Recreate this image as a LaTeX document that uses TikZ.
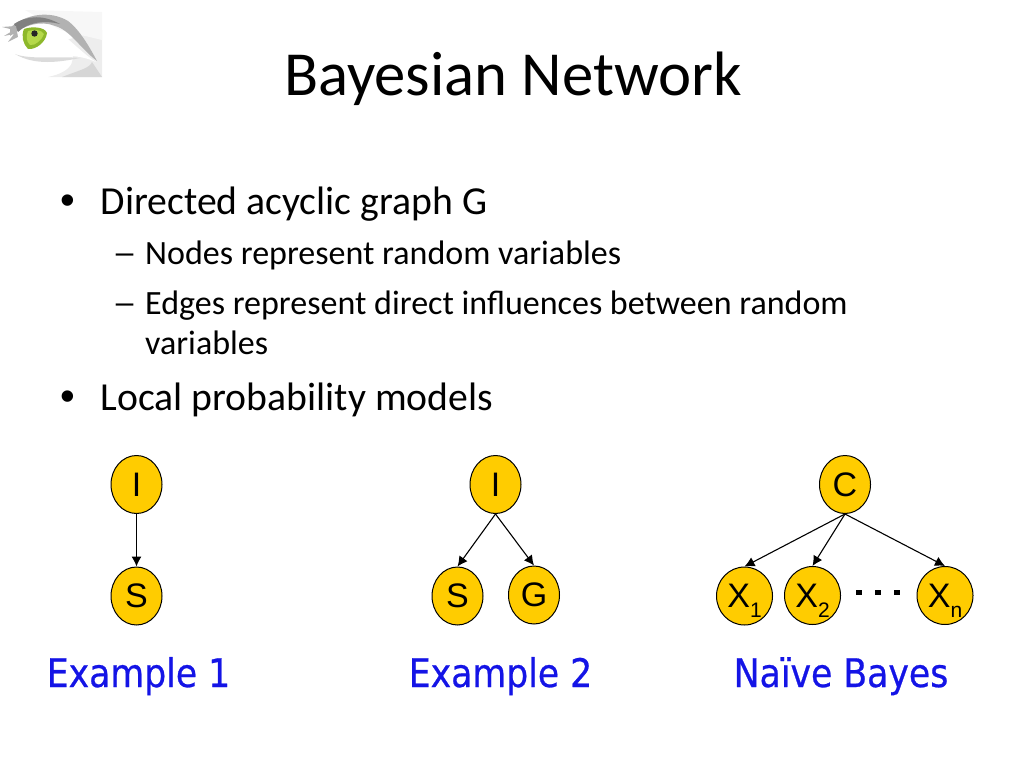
\documentclass[tikz,border=0pt]{standalone}
\usepackage{fontspec}
\setmainfont{Carlito}
\newfontfamily\arialf{Liberation Sans}
\newfontfamily\capf[FakeStretch=0.88,FakeBold=0.6]{DejaVu Sans}
\definecolor{nodeyellow}{HTML}{FFCC00}
\definecolor{capblue}{HTML}{1414E6}
\definecolor{irisA}{HTML}{8DB82B}
\definecolor{irisB}{HTML}{B5D94A}
\usetikzlibrary{arrows.meta,shapes.geometric}
\tikzset{
 gnode/.style={draw=black,line width=1pt,fill=nodeyellow,ellipse,minimum width=51pt,minimum height=58pt,inner sep=0pt,font=\arialf\fontsize{34}{34}\selectfont},
 xnode/.style={gnode,minimum width=56pt},
 edge/.style={draw=black,line width=1.1pt,-{Latex[length=10pt,width=10pt]}},
 title/.style={anchor=base,inner sep=0pt,font=\fontsize{62.7}{62.7}\selectfont},
 lone/.style={anchor=base west,inner sep=0pt,font=\fontsize{39.7}{40}\selectfont},
 ltwo/.style={anchor=base west,inner sep=0pt,font=\fontsize{34}{34}\selectfont},
 dashmark/.style={anchor=base west,inner sep=0pt,xscale=1.45,font=\fontsize{34}{34}\selectfont},
 bulletmark/.style={anchor=base,inner sep=0pt,font=\arialf\fontsize{42}{42}\selectfont},
 caption/.style={anchor=base,inner sep=0pt,text=capblue,font=\capf\fontsize{39.4}{40}\selectfont},
 dotbox/.style={fill=black,minimum width=6pt,minimum height=5pt,inner sep=0pt},
}
\newcommand{\subx}[1]{X\smash{\raisebox{-10pt}{\fontsize{21}{21}\selectfont #1}}}
\begin{document}
\begin{tikzpicture}[x=1pt,y=-1pt]
\useasboundingbox (0,0) rectangle (1024,768);
% eye
\fill[black!7] (48,77) .. controls (72,72) and (80,60) .. (66,40) -- (102,30) -- (102,77) -- cycle;
\fill[black!3] (25,10) -- (102,12) -- (102,40) -- (60,30) -- cycle;
\fill[black!16] (62,77) .. controls (80,70) and (90,68) .. (92,62) -- (102,77) -- cycle;
\fill[white] (12,50) .. controls (22,25) and (45,20) .. (60,32) .. controls (75,45) and (85,55) .. (96,62) .. controls (70,50) and (45,60) .. (12,50) -- cycle;
\fill[black!30] (10,28) .. controls (25,14) and (50,10) .. (68,21) .. controls (80,30) and (90,48) .. (97,61) .. controls (80,48) and (70,30) .. (55,26) .. controls (40,20) and (25,25) .. (10,36) -- cycle;
\fill[black!50] (14,24) .. controls (28,15) and (44,15) .. (60,24) .. controls (45,20) and (28,22) .. (18,32) -- cycle;
\fill[black!14] (15,54) .. controls (30,60) and (60,56) .. (80,58) .. controls (60,62) and (35,66) .. (15,54) -- cycle;
\fill[black!30] (2,27) -- (14,30) -- (4,36) -- (14,34) -- (8,42) -- (18,37) -- (16,26) -- cycle;
\fill[irisA] (24,29) .. controls (32,26) and (45,27) .. (47,33) .. controls (46,42) and (36,50) .. (28,49) .. controls (23,44) and (21,36) .. (24,29) -- cycle;
\fill[irisB] (28,31) .. controls (34,29) and (42,30) .. (44,34) .. controls (42,40) and (35,46) .. (30,45) .. controls (26,41) and (26,36) .. (28,31) -- cycle;
\fill[black!85] (34.5,33.5) circle (3.2);
% text
\node[title] (ttl) at (513,95) {Bayesian Network};
\node[bulletmark] (b1) at (68,214) {•};
\node[lone] (l1) at (100.5,214) {Directed acyclic graph G};
\node[dashmark] (d1) at (112,264) {–};
\node[ltwo] (l2) at (145,264) {Nodes represent random variables};
\node[dashmark] (d2) at (112,314) {–};
\node[ltwo] (l3) at (145,314) {Edges represent direct influences between random};
\node[ltwo] (l4) at (145,354) {variables};
\node[bulletmark] (b2) at (68,410) {•};
\node[lone] (l5) at (100.5,410) {Local probability models};
% graph 1
\node[gnode] (i1) at (136.5,484.5) {I};
\node[gnode] (s1) at (136.5,596) {S};
\draw[edge] (i1.south) -- (s1.north);
% graph 2
\node[gnode] (i2) at (495.5,484.5) {I};
\node[gnode] (s2) at (457.5,596) {S};
\node[gnode] (g2) at (534,595) {G};
\draw[edge] (i2.south) -- (s2.north);
\draw[edge] (i2.south) -- (g2.north);
% graph 3
\node[gnode] (c3) at (845,484.5) {C};
\node[xnode] (x1) at (744.5,596) {\subx{1}};
\node[xnode] (x2) at (812.5,595.5) {\subx{2}};
\node[xnode] (xn) at (945,595.5) {\subx{n}};
\draw[edge] (c3.south) -- (x1.north);
\draw[edge] (c3.south) -- (x2.north);
\draw[edge] (c3.south) -- (xn.north);
\node[dotbox] (p1) at (858.5,592) {};
\node[dotbox] (p2) at (878,592) {};
\node[dotbox] (p3) at (897,592) {};
% captions
\node[caption] (e1) at (138.5,687) {Example 1};
\node[caption] (e2) at (500.5,687) {Example 2};
\node[caption] (e3) at (841,687) {Naïve Bayes};
\end{tikzpicture}
\end{document}
